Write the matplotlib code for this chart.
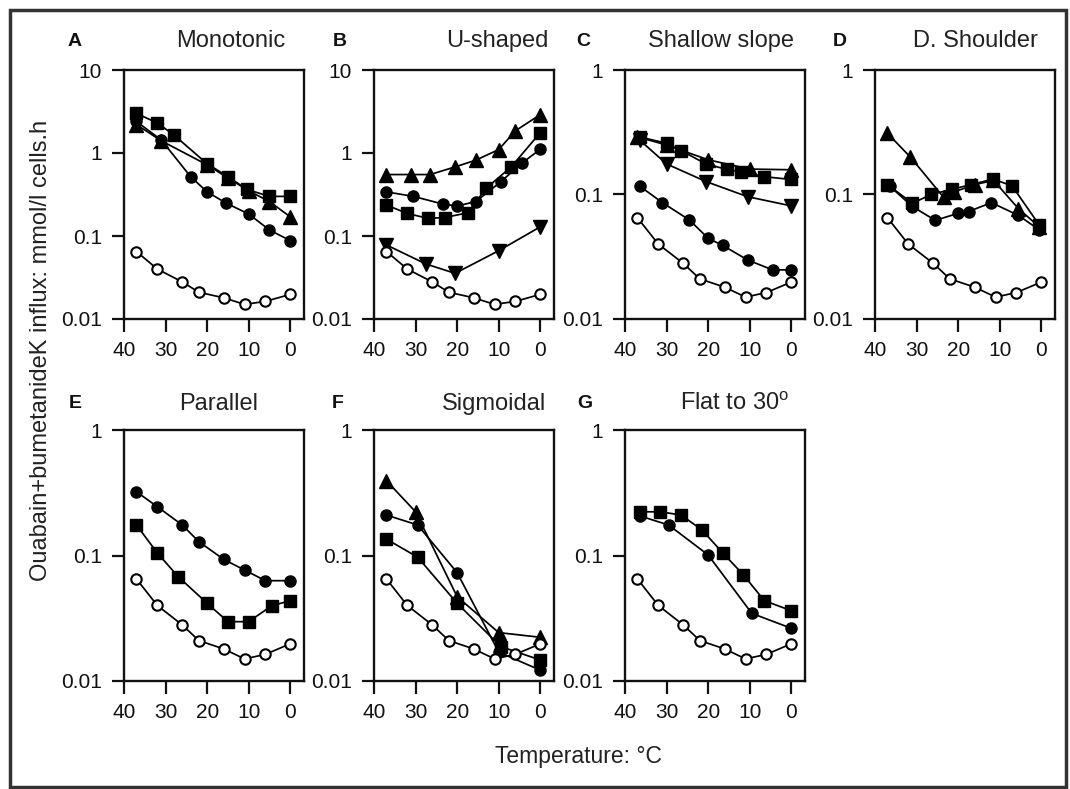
import matplotlib
matplotlib.use('Agg')
import matplotlib.pyplot as plt
from matplotlib.patches import Rectangle
from matplotlib.ticker import NullLocator

plt.rcParams['font.family'] = ['Liberation Sans', 'DejaVu Sans']
plt.rcParams['mathtext.fontset'] = 'custom'
plt.rcParams['mathtext.rm'] = 'Liberation Sans'

# control series (open circles), same in every panel
ref_t = [37, 32, 26, 22, 16, 11, 6, 0]
ref_v = [0.065, 0.040, 0.028, 0.021, 0.018, 0.015, 0.0163, 0.0198]

# A - Monotonic
a_sq_t = [37, 32, 28, 20, 15, 10.5, 5, 0]
a_sq_v = [3.0, 2.3, 1.65, 0.74, 0.52, 0.365, 0.30, 0.30]
a_ci_t = [37, 31, 24, 20, 15.5, 10, 5, 0]
a_ci_v = [2.4, 1.43, 0.52, 0.34, 0.25, 0.184, 0.118, 0.088]
a_tr_t = [37, 31, 20, 15, 10, 5, 0]
a_tr_v = [2.2, 1.4, 0.72, 0.5, 0.35, 0.26, 0.17]

# B - U-shaped
b_tr_t = [37, 31, 26.5, 20.5, 15.5, 10, 6, 0]
b_tr_v = [0.55, 0.55, 0.55, 0.68, 0.82, 1.1, 1.85, 2.9]
b_ci_t = [37, 30.5, 23.5, 20, 15.5, 9.5, 4.5, 0]
b_ci_v = [0.34, 0.30, 0.243, 0.23, 0.26, 0.45, 0.75, 1.11]
b_sq_t = [37, 32, 27, 23, 17.5, 13, 7, 0]
b_sq_v = [0.236, 0.187, 0.163, 0.167, 0.19, 0.376, 0.68, 1.76]
b_dn_t = [37, 27.5, 20.5, 10, 0]
b_dn_v = [0.078, 0.046, 0.0355, 0.0665, 0.129]

# C - Shallow slope
c_sq_t = [36.5, 30, 26.5, 20.5, 15.5, 12, 6.5, 0]
c_sq_v = [0.29, 0.258, 0.225, 0.176, 0.159, 0.152, 0.139, 0.132]
c_tr_t = [37, 30, 20, 10, 0]
c_tr_v = [0.29, 0.25, 0.19, 0.16, 0.158]
c_dn_t = [36.5, 30, 20.5, 10.5, 0]
c_dn_v = [0.274, 0.176, 0.127, 0.096, 0.081]
c_ci_t = [36.5, 31, 24.5, 20, 16.5, 10.5, 4.5, 0]
c_ci_v = [0.117, 0.086, 0.0624, 0.0445, 0.039, 0.0298, 0.0248, 0.0248]

# D - D. Shoulder
d_sq_t = [37, 31, 26.5, 21.5, 17, 11.5, 7, 0.5]
d_sq_v = [0.12, 0.085, 0.10, 0.11, 0.12, 0.133, 0.117, 0.057]
d_ci_t = [36.5, 31, 25.5, 20, 17.5, 12, 5.5, 0.5]
d_ci_v = [0.117, 0.080, 0.062, 0.0706, 0.073, 0.086, 0.068, 0.052]
d_tr_t = [37, 31.5, 23.5, 21, 16, 11.5, 5.5, 0.5]
d_tr_v = [0.31, 0.20, 0.095, 0.105, 0.12, 0.13, 0.077, 0.055]

# E - Parallel
e_ci_t = [37, 32, 26, 22, 16, 11, 6, 0]
e_ci_v = [0.322, 0.245, 0.175, 0.129, 0.093, 0.0766, 0.063, 0.063]
e_sq_t = [37, 32, 27, 20, 15, 10, 4.5, 0]
e_sq_v = [0.175, 0.105, 0.068, 0.0416, 0.0297, 0.0297, 0.0397, 0.0437]

# F - Sigmoidal
f_tr_t = [37, 30, 20, 10, 0]
f_tr_v = [0.394, 0.223, 0.047, 0.0243, 0.0223]
f_ci_t = [37, 29.5, 20, 10, 0]
f_ci_v = [0.21, 0.175, 0.073, 0.017, 0.0122]
f_sq_t = [37, 29.5, 20, 9.5, 0]
f_sq_v = [0.135, 0.097, 0.0416, 0.0188, 0.0147]

# G - Flat to 30
g_sq_t = [36.5, 31.5, 26.5, 21.5, 16.5, 11.5, 6.5, 0]
g_sq_v = [0.223, 0.223, 0.21, 0.16, 0.105, 0.07, 0.0437, 0.0363]
g_ci_t = [36.5, 29.5, 20, 9.5, 0]
g_ci_v = [0.207, 0.175, 0.101, 0.0346, 0.0263]

x_ticks = [40, 30, 20, 10, 0]
y_ticks = [0.01, 0.1, 1, 10]
y_labels = ['0.01', '0.1', '1', '10']

W, H = 1070, 789
fig = plt.figure(figsize=(W / 100, H / 100), dpi=100)


def fx(x):
    return x / W


def fy(y):
    return 1 - y / H


def make_axes(left, top, bottom, ymax):
    ax = fig.add_axes([fx(left), fy(bottom), fx(180), (bottom - top) / H])
    ax.set_yscale('log')
    ax.set_ylim(0.01, ymax)
    ax.set_xlim(40, -3.3)
    ax.set_xticks(x_ticks)
    n = 4 if ymax > 1 else 3
    ax.set_yticks(y_ticks[:n])
    ax.set_yticklabels(y_labels[:n])
    ax.yaxis.set_minor_locator(NullLocator())
    ax.tick_params(direction='out', length=9, width=1.6, labelsize=15,
                   pad=7, colors='#111111')
    for s in ax.spines.values():
        s.set_linewidth(1.7)
        s.set_color('#111111')
    return ax


def series(ax, t, v, marker, ms):
    ax.plot(t, v, color='black', lw=1.25, marker=marker, ms=ms,
            mfc='black', mec='black', clip_on=False, zorder=3)


def control(ax):
    ax.plot(ref_t, ref_v, color='black', lw=1.25, marker='o', ms=7.5,
            mfc='white', mec='black', mew=1.5, clip_on=False, zorder=4)


lefts = [124, 374, 625, 875]
top1, bot1 = 70, 319
top2, bot2 = 430, 681

axA = make_axes(lefts[0], top1, bot1, 10)
series(axA, a_tr_t, a_tr_v, '^', 9.5)
series(axA, a_ci_t, a_ci_v, 'o', 8)
series(axA, a_sq_t, a_sq_v, 's', 8.5)
control(axA)

axB = make_axes(lefts[1], top1, bot1, 10)
series(axB, b_tr_t, b_tr_v, '^', 9.5)
series(axB, b_ci_t, b_ci_v, 'o', 8)
series(axB, b_sq_t, b_sq_v, 's', 8.5)
series(axB, b_dn_t, b_dn_v, 'v', 9.5)
control(axB)

axC = make_axes(lefts[2], top1, bot1, 1)
series(axC, c_tr_t, c_tr_v, '^', 9.5)
series(axC, c_sq_t, c_sq_v, 's', 8.5)
series(axC, c_dn_t, c_dn_v, 'v', 9.5)
series(axC, c_ci_t, c_ci_v, 'o', 8)
control(axC)

axD = make_axes(lefts[3], top1, bot1, 1)
series(axD, d_tr_t, d_tr_v, '^', 9.5)
series(axD, d_sq_t, d_sq_v, 's', 8.5)
series(axD, d_ci_t, d_ci_v, 'o', 8)
control(axD)

axE = make_axes(lefts[0], top2, bot2, 1)
series(axE, e_ci_t, e_ci_v, 'o', 8)
series(axE, e_sq_t, e_sq_v, 's', 8.5)
control(axE)

axF = make_axes(lefts[1], top2, bot2, 1)
series(axF, f_tr_t, f_tr_v, '^', 9.5)
series(axF, f_ci_t, f_ci_v, 'o', 8)
series(axF, f_sq_t, f_sq_v, 's', 8.5)
control(axF)

axG = make_axes(lefts[2], top2, bot2, 1)
series(axG, g_sq_t, g_sq_v, 's', 8.5)
series(axG, g_ci_t, g_ci_v, 'o', 8)
control(axG)

# panel letters and titles
letters = ['A', 'B', 'C', 'D', 'E', 'F', 'G']
letter_x = [75, 340, 583, 840, 75, 338, 585]
titles = ['Monotonic', 'U-shaped', 'Shallow slope', 'D. Shoulder',
          'Parallel', 'Sigmoidal', r'Flat to 30$^{\rm o}$']
title_x = [231, 497, 721, 975, 219, 494, 735]
row_y = [41, 41, 41, 41, 404, 404, 404]

for L, lx, T, tx, ry in zip(letters, letter_x, titles, title_x, row_y):
    fig.text(fx(lx), fy(ry), L, fontsize=14, fontweight='bold',
             ha='center', va='center', color='#111111')
    fig.text(fx(tx), fy(ry), T, fontsize=17, ha='center', va='center',
             color='#222222')

fig.text(fx(41), fy(350), 'Ouabain+bumetanideK influx: mmol/l cells.h',
         rotation=90, fontsize=17, ha='center', va='center', color='#222222')
fig.text(fx(578), fy(757), 'Temperature: \u00b0C', fontsize=16.5,
         ha='center', va='center', color='#222222')

# outer frame
fig.patches.append(Rectangle((fx(10), fy(787)), fx(1056), (787 - 10) / H,
                             transform=fig.transFigure, fill=False,
                             lw=2.5, edgecolor='#333333'))

fig.savefig('out.png', dpi=100)
